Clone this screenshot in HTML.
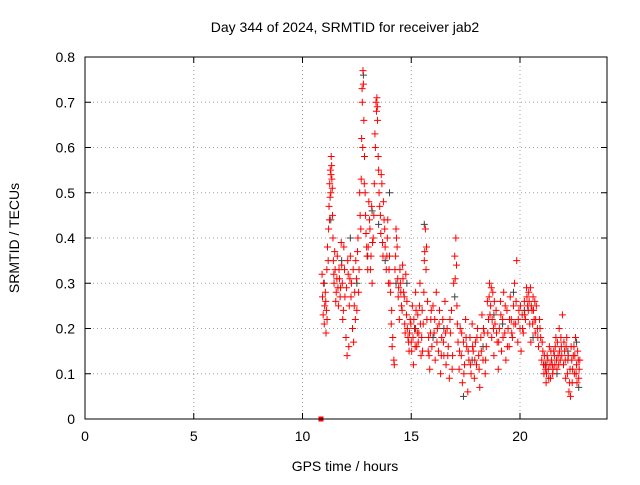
<!DOCTYPE html>
<html><head><meta charset="utf-8"><style>
body{margin:0;background:#fff;}
svg text{font-family:"Liberation Sans",sans-serif;font-size:14px;fill:#000;}
</style></head><body>
<svg id="chart" width="640" height="480" viewBox="0 0 640 480" xmlns="http://www.w3.org/2000/svg">
<rect width="640" height="480" fill="#fff"/>
<text x="345" y="32" text-anchor="middle">Day 344 of 2024, SRMTID for receiver jab2</text>
<text transform="translate(19,238) rotate(-90)" text-anchor="middle">SRMTID / TECUs</text>
<text x="345" y="471" text-anchor="middle">GPS time / hours</text>
<g id="grid"></g><g id="marks"></g>
<rect x="85" y="57" width="522" height="362" fill="none" stroke="#000" stroke-width="1"/>
<g id="axes"></g>
</svg>
<script>
const xTicks=[0,5,10,15,20];
const yTicks=[0,0.1,0.2,0.3,0.4,0.5,0.6,0.7,0.8];
const yTickLabels=["0","0.1","0.2","0.3","0.4","0.5","0.6","0.7","0.8"];
const redTimes=[10.9,10.92,10.95,10.97,11.0,11.02,11.05,11.08,11.1,11.12,11.15,11.2,11.22,11.25,11.28,11.3,11.32,11.35,11.38,11.4,11.42,11.45,11.5,11.55,11.6,11.65,11.7,11.75,11.8,11.85,11.9,11.95,12.0,12.05,12.1,12.15,12.2,12.25,12.3,12.35,12.4,12.45,12.5,12.55,12.6,12.65,12.7,12.72,12.75,12.78,12.8,12.82,12.85,12.88,12.9,12.95,13.0,13.05,13.1,13.15,13.2,13.25,13.3,13.35,13.4,13.42,13.45,13.5,13.55,13.6,13.65,13.7,13.75,13.8,13.85,13.9,13.95,14.0,14.05,14.1,14.15,14.2,14.25,14.3,14.35,14.4,14.45,14.5,14.55,14.6,14.65,14.7,14.75,14.8,14.85,14.9,14.95,15.0,15.05,15.1,15.15,15.2,15.25,15.3,15.35,15.4,15.45,15.5,15.55,15.6,15.65,15.7,15.75,15.8,15.85,15.9,15.95,16.0,16.05,16.1,16.15,16.2,16.25,16.3,16.35,16.4,16.45,16.5,16.55,16.6,16.65,16.7,16.75,16.8,16.85,16.9,16.95,17.0,17.05,17.1,17.15,17.2,17.25,17.3,17.35,17.4,17.45,17.5,17.55,17.6,17.65,17.7,17.75,17.8,17.85,17.9,17.95,18.0,18.05,18.1,18.15,18.2,18.25,18.3,18.35,18.4,18.45,18.5,18.55,18.6,18.65,18.7,18.75,18.8,18.85,18.9,18.95,19.0,19.05,19.1,19.15,19.2,19.25,19.3,19.35,19.4,19.45,19.5,19.55,19.6,19.65,19.7,19.75,19.8,19.85,19.9,19.95,20.0,20.05,20.1,20.15,20.2,20.25,20.3,20.35,20.4,20.45,20.5,20.55,20.6,20.65,20.7,20.75,20.8,20.85,20.9,20.95,21.0,21.05,21.1,21.15,21.2,21.25,21.3,21.35,21.4,21.45,21.5,21.55,21.6,21.65,21.7,21.75,21.8,21.85,21.9,21.95,22.0,22.05,22.1,22.15,22.2,22.25,22.3,22.35,22.4,22.45,22.5,22.55,22.6,22.65,22.7,22.75,
11.07,11.13,11.18,11.24,11.27,11.31,11.34,11.37,11.44,11.48,11.53,11.58,11.63,11.68,11.73,11.78,11.83,11.88,11.93,12.02,12.08,12.13,12.18,12.23,12.33,12.38,12.43,12.48,12.53,12.58,12.63,12.68,12.74,12.77,12.84,12.92,12.97,13.02,13.08,13.12,13.18,13.22,13.28,13.33,13.38,13.44,13.48,13.52,13.58,13.62,13.68,13.72,13.78,13.88,13.92,13.98,14.02,14.08,14.12,14.22,14.28,14.32,14.38,14.42,14.48,14.52,14.58,14.62,14.68,14.72,14.78,14.82,14.88,14.92,14.98,15.02,15.08,15.12,15.18,15.22,15.28,15.32,15.38,15.42,15.48,15.52,15.58,15.62,15.68,15.72,15.78,15.82,15.88,15.92,16.08,16.18,16.28,16.38,16.48,16.58,16.68,16.78,16.88,17.02,17.08,17.12,17.22,17.32,17.42,17.52,17.62,17.72,17.82,17.92,18.02,18.12,18.22,18.32,18.42,18.52,18.58,18.62,18.68,18.72,18.78,18.82,18.92,19.02,19.12,19.22,19.32,19.42,19.52,19.62,19.72,19.82,19.92,20.02,20.12,20.22,20.32,20.38,20.42,20.48,20.52,20.58,20.62,20.68,20.72,20.82,20.92,21.02,21.08,21.12,21.18,21.22,21.28,21.32,21.38,21.42,21.48,21.52,21.58,21.62,21.68,21.72,21.78,21.82,21.88,21.92,22.02,22.08,22.12,22.18,22.22,22.28,22.32,22.38,22.42,22.48,22.52,22.58,22.62,22.68,22.72];
const redValues=[.32,.27,.23,.30,.21,.25,.28,.19,.24,.33,.38,.42,.47,.52,.55,.50,.58,.53,.45,.40,.35,.30,.33,.28,.36,.25,.31,.29,.34,.22,.38,.27,.18,.14,.32,.25,.36,.30,.20,.17,.28,.35,.24,.40,.33,.45,.53,.62,.70,.77,.74,.66,.58,.50,.45,.38,.33,.48,.42,.36,.30,.40,.52,.60,.68,.71,.66,.55,.47,.41,.52,.36,.44,.38,.33,.40,.30,.36,.28,.24,.18,.13,.33,.42,.38,.27,.22,.30,.25,.34,.28,.21,.32,.26,.18,.15,.22,.17,.25,.12,.20,.28,.16,.23,.19,.30,.14,.24,.21,.35,.42,.38,.26,.18,.11,.22,.16,.25,.19,.13,.28,.20,.15,.24,.10,.18,.22,.14,.26,.12,.20,.16,.09,.19,.24,.14,.30,.36,.40,.25,.17,.11,.20,.14,.08,.17,.12,.22,.16,.06,.13,.18,.10,.21,.15,.09,.17,.12,.20,.14,.07,.18,.23,.13,.19,.10,.16,.26,.22,.30,.25,.18,.28,.14,.21,.24,.17,.11,.20,.26,.15,.22,.28,.19,.13,.24,.20,.16,.27,.22,.18,.25,.30,.21,.35,.17,.24,.20,.15,.23,.19,.26,.22,.29,.25,.28,.21,.17,.24,.27,.22,.19,.25,.20,.16,.22,.18,.13,.15,.10,.12,.08,.14,.11,.16,.09,.13,.10,.15,.12,.18,.11,.14,.20,.13,.16,.23,.12,.15,.09,.18,.13,.06,.11,.16,.08,.14,.10,.18,.12,.15,.09,.13,
.26,.22,.35,.44,.49,.54,.56,.51,.32,.37,.26,.31,.29,.33,.27,.39,.30,.24,.33,.29,.35,.16,.31,.27,.33,.25,.22,.31,.37,.28,.50,.42,.73,.60,.52,.41,.36,.38,.44,.33,.47,.39,.45,.63,.70,.69,.58,.50,.45,.54,.39,.48,.42,.36,.44,.33,.30,.21,.16,.12,.36,.40,.31,.29,.33,.28,.24,.31,.27,.19,.23,.20,.17,.19,.21,.15,.18,.22,.16,.24,.19,.17,.25,.21,.18,.15,.28,.37,.33,.22,.15,.14,.19,.24,.22,.17,.21,.14,.17,.19,.14,.22,.11,.31,.34,.21,.15,.19,.10,.18,.15,.12,.16,.13,.18,.11,.15,.20,.13,.19,.27,.23,.29,.22,.20,.26,.19,.17,.23,.18,.25,.16,.22,.19,.21,.26,.22,.25,.20,.23,.27,.24,.26,.29,.25,.21,.24,.26,.22,.18,.20,.17,.12,.14,.11,.10,.13,.09,.12,.15,.12,.11,.14,.16,.13,.17,.12,.15,.18,.14,.17,.13,.16,.10,.14,.08,.05,.13,.11,.16,.14,.10,.08,.13,.11];
const blackTimes=[11.0,11.3,11.8,12.2,12.5,12.8,13.0,13.2,13.5,13.8,14.0,14.3,14.8,15.2,15.6,16.0,16.5,17.0,17.4,17.8,18.3,18.8,19.2,19.7,20.2,20.6,21.2,21.7,22.2,22.6,22.7];
const blackValues=[.30,.44,.35,.40,.30,.76,.36,.46,.43,.35,.50,.30,.30,.20,.43,.18,.20,.27,.05,.13,.16,.23,.21,.28,.24,.18,.12,.10,.15,.17,.07];
const NS="http://www.w3.org/2000/svg";
const X0=85,X1=607,Y0=419,Y1=57;
function xs(t){return X0+(t/24)*(X1-X0);}
function ys(v){return Y0-(v/0.8)*(Y0-Y1);}
function mk(tag,attrs,parent){const e=document.createElementNS(NS,tag);for(const k in attrs)e.setAttribute(k,attrs[k]);parent.appendChild(e);return e;}
const grid=document.getElementById('grid'),axes=document.getElementById('axes'),marks=document.getElementById('marks');
xTicks.forEach(t=>{const x=xs(t);
 if(t>0){const g=mk('line',{x1:x,y1:Y0,x2:x,y2:Y1,stroke:'#a0a0a0','stroke-dasharray':'1,3'},grid);
 
 }
 mk('line',{x1:x,y1:Y0,x2:x,y2:Y0-6,stroke:'#000'},axes);
 mk('line',{x1:x,y1:Y1,x2:x,y2:Y1+6,stroke:'#000'},axes);
 const l=mk('text',{x:x,y:Y0+22,'text-anchor':'middle'},axes);l.textContent=String(t);
 
 
});
yTicks.forEach((v,i)=>{const y=ys(v);
 if(v>0&&v<0.8){const g=mk('line',{x1:X0,y1:y,x2:X1,y2:y,stroke:'#a0a0a0','stroke-dasharray':'1,3'},grid);
 
 }
 mk('line',{x1:X0,y1:y,x2:X0+6,y2:y,stroke:'#000'},axes);
 mk('line',{x1:X1,y1:y,x2:X1-6,y2:y,stroke:'#000'},axes);
 const l=mk('text',{x:X0-10,y:y+5,'text-anchor':'end'},axes);l.textContent=yTickLabels[i];
 
 
});
function plus(t,v,color,name){const x=xs(t),y=ys(v);
 const p=mk('path',{d:`M${x-3.5},${y}H${x+3.5}M${x},${y-3.5}V${y+3.5}`,stroke:color,'stroke-width':1,fill:'none'},marks);
 
 
}
blackTimes.forEach((t,i)=>plus(t,blackValues[i],'#404040','black-point'));
redTimes.forEach((t,i)=>plus(t,redValues[i],'#ff0000','red-point'));
const sq=mk('rect',{x:xs(10.85)-2.5,y:ys(0)-2.5,width:5,height:5,fill:'#ff0000'},marks);


</script>
</body></html>
